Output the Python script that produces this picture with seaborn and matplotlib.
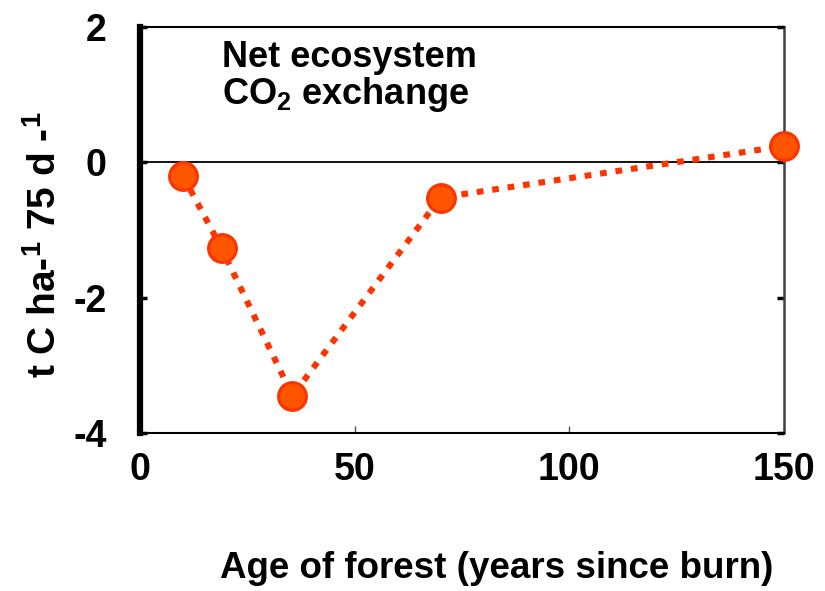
import matplotlib
matplotlib.use("Agg")
import matplotlib.pyplot as plt
import seaborn as sns
import pandas as pd

# Forest age (years since burn) and net ecosystem CO2 exchange (t C ha-1 per 75 d)
age_years = [10, 19, 35.5, 70, 150]
nee_values = [-0.2, -1.27, -3.45, -0.52, 0.24]
x_ticks = [0, 50, 100, 150]
y_ticks = [-4, -2, 0, 2]

df = pd.DataFrame({"age": age_years, "nee": nee_values})

sns.set_style("white")
plt.rcParams["font.family"] = ["Liberation Sans", "DejaVu Sans"]
plt.rcParams["font.weight"] = "bold"
plt.rcParams["text.color"] = "black"
plt.rcParams["xtick.labelcolor"] = "black"
plt.rcParams["ytick.labelcolor"] = "black"
plt.rcParams["axes.unicode_minus"] = False
plt.rcParams["mathtext.fontset"] = "custom"
plt.rcParams["mathtext.rm"] = "Liberation Sans:bold"
plt.rcParams["mathtext.bf"] = "Liberation Sans:bold"
plt.rcParams["mathtext.default"] = "bf"

W, H = 825, 591
fig = plt.figure(figsize=(W / 100, H / 100), dpi=100)
ax = fig.add_axes([140 / W, 1 - 433 / H, (784 - 140) / W, (433 - 27) / H])

line_col = "#FF3300"
face_col = "#FF5500"

sns.lineplot(data=df, x="age", y="nee", ax=ax, color=line_col, lw=4.4,
             linestyle=(0, (1.1, 1.45)), zorder=3)
sns.scatterplot(data=df, x="age", y="nee", ax=ax, s=27 ** 2 * 0.55,
                color=face_col, edgecolor=line_col, linewidth=2.2, zorder=4,
                clip_on=False)

ax.axhline(0, color="black", lw=1.3, zorder=2)

ax.set_xlim(0, 150)
ax.set_ylim(-4, 2)
ax.set_xticks(x_ticks)
ax.set_yticks(y_ticks)
ax.set_xlabel("")
ax.set_ylabel("")

for side in ["top", "bottom"]:
    ax.spines[side].set_color("black")
    ax.spines[side].set_linewidth(1.5)
ax.spines["right"].set_color("#404040")
ax.spines["right"].set_linewidth(1.8)
ax.spines["left"].set_color("black")
ax.spines["left"].set_linewidth(4.5)

ax.tick_params(axis="both", direction="in", length=5, width=1, color="#555555",
               labelsize=27, labelcolor="black")
ax.tick_params(axis="y", right=True, left=True, width=2.5, color="black", pad=24)
ax.tick_params(axis="x", bottom=True, pad=14)
for lab in ax.get_xticklabels() + ax.get_yticklabels():
    lab.set_fontweight("bold")

fig.text(222 / W, 1 - 67 / H, "Net ecosystem", fontsize=26, fontweight="bold",
         ha="left", va="baseline")
fig.text(222 / W, 1 - 104 / H, r"CO$_{2}$ exchange", fontsize=26,
         fontweight="bold", ha="left", va="baseline")

fig.text(45 / W, 1 - 245 / H, r"t C ha-$^{1}$ 75 d -$^{1}$", fontsize=28,
         fontweight="bold", rotation=90, ha="center", va="center")
fig.text(497 / W, 1 - 578 / H, "Age of forest (years since burn)", fontsize=26.5,
         fontweight="bold", ha="center", va="baseline")

fig.savefig("out.png", dpi=100)
